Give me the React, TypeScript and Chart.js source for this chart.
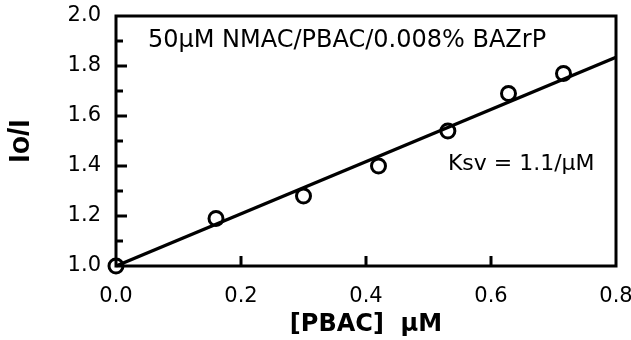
import React, { useEffect, useRef } from "react";
import { Chart, registerables } from "chart.js";

Chart.register(...registerables);

// Data
const concPBAC = [0, 0.16, 0.3, 0.42, 0.531, 0.628, 0.716];
const ioOverI = [1.0, 1.19, 1.28, 1.4, 1.54, 1.69, 1.77];
const fitX = [0, 0.8];
const fitY = [1.0, 1.835];
const annotationTop = "50\u03bcM NMAC/PBAC/0.008% BAZrP";
const annotationKsv = "Ksv = 1.1/\u03bcM";
const xTitle = "[PBAC]  \u03bcM";
const yTitle = "Io/I";

const frameAndTicks = {
  id: "frameAndTicks",
  afterDatasetsDraw(chart: any) {
    const { ctx, chartArea, scales } = chart;
    const { left, right, top, bottom } = chartArea;
    ctx.save();
    ctx.strokeStyle = "#000";
    ctx.lineWidth = 3;
    ctx.lineCap = "butt";
    ctx.strokeRect(left, top, right - left, bottom - top);
    const ys = scales.y;
    ys.ticks.forEach((t: any) => {
      const v = t.value;
      const major = Math.round(v * 10) % 2 === 0;
      const py = ys.getPixelForValue(v);
      if (v <= ys.min + 1e-9 || v >= ys.max - 1e-9) return;
      ctx.beginPath();
      ctx.moveTo(left, py);
      ctx.lineTo(left + (major ? 11 : 7), py);
      ctx.stroke();
    });
    const xs = scales.x;
    xs.ticks.forEach((t: any) => {
      const v = t.value;
      if (v <= xs.min + 1e-9 || v >= xs.max - 1e-9) return;
      const px = xs.getPixelForValue(v);
      ctx.beginPath();
      ctx.moveTo(px, bottom);
      ctx.lineTo(px, bottom - 10);
      ctx.stroke();
    });
    ctx.fillStyle = "#000";
    ctx.textBaseline = "middle";
    ctx.textAlign = "left";
    ctx.font = "24px 'DejaVu Sans'";
    ctx.fillText(annotationTop, xs.getPixelForValue(0.051), ys.getPixelForValue(1.9));
    ctx.font = "22px 'DejaVu Sans'";
    ctx.fillText(annotationKsv, xs.getPixelForValue(0.531), ys.getPixelForValue(1.405));
    ctx.restore();
  },
};

export default function App() {
  const ref = useRef<HTMLCanvasElement>(null);
  useEffect(() => {
    if (!ref.current) return;
    const chart = new Chart(ref.current, {
      type: "scatter",
      data: {
        datasets: [
          {
            label: "fit",
            data: fitX.map((x, i) => ({ x, y: fitY[i] })),
            showLine: true,
            borderColor: "#000",
            borderWidth: 3.5,
            pointRadius: 0,
            clip: false as any,
          },
          {
            label: "data",
            data: concPBAC.map((x, i) => ({ x, y: ioOverI[i] })),
            showLine: false,
            pointRadius: 7,
            pointBorderWidth: 3,
            pointBorderColor: "#000",
            pointBackgroundColor: "#fff",
            clip: false as any,
          },
        ],
      },
      options: {
        animation: false,
        responsive: true,
        maintainAspectRatio: false,
        layout: { padding: 0 },
        plugins: { legend: { display: false }, tooltip: { enabled: false } },
        scales: {
          x: {
            type: "linear",
            min: 0,
            max: 0.8,
            grid: { display: false, drawTicks: false },
            border: { display: false },
            ticks: {
              stepSize: 0.2,
              padding: 18,
              color: "#000",
              font: { family: "'DejaVu Sans'", size: 21 },
              callback: (v: any) => Number(v).toFixed(1),
            },
            title: {
              display: true,
              text: xTitle,
              color: "#000",
              font: { family: "'DejaVu Sans'", size: 24, weight: "bold" },
              padding: { top: 0, bottom: 1 },
            },
            afterFit: (s: any) => {
              s.height = 74;
              s.paddingLeft = 0;
              s.paddingRight = 15;
            },
          },
          y: {
            type: "linear",
            min: 1,
            max: 2,
            grid: { display: false, drawTicks: false },
            border: { display: false },
            ticks: {
              stepSize: 0.1,
              padding: 15,
              color: "#000",
              autoSkip: false,
              font: { family: "'DejaVu Sans'", size: 21 },
              callback: (v: any) =>
                Math.round(Number(v) * 10) % 2 === 0 ? Number(v).toFixed(1) : "",
            },
            title: {
              display: true,
              text: yTitle,
              color: "#000",
              font: { family: "'Liberation Sans'", size: 30, weight: "bold" },
              padding: { top: 3, bottom: 0 },
            },
            afterFit: (s: any) => {
              s.width = 116;
              s.paddingTop = 16;
              s.paddingBottom = 0;
            },
          },
        },
      },
      plugins: [frameAndTicks],
    });
    return () => chart.destroy();
  }, []);
  return (
    <div
      style={{
        position: "fixed",
        left: 0,
        top: 0,
        width: 631,
        height: 340,
        background: "#fff",
      }}
    >
      <canvas ref={ref} />
    </div>
  );
}
